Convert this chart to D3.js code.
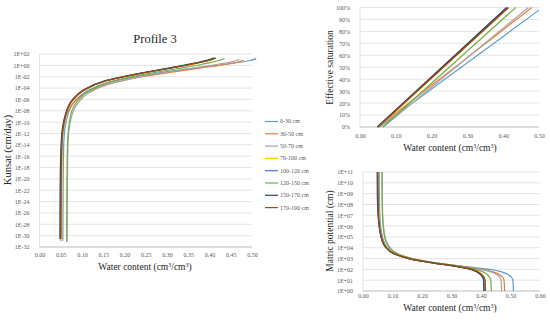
<!DOCTYPE html>
<html>
<head>
<meta charset="utf-8">
<script src="https://cdn.jsdelivr.net/npm/d3@7"></script>
<style>
  body { margin: 0; background: #fff; }
  text { font-family: "Liberation Serif", serif; }
</style>
</head>
<body>
<svg width="550" height="324"></svg>
<script>
// layers in the legend order
const layers = ["0-30 cm", "30-50 cm", "50-70 cm", "70-100 cm", "100-120 cm", "120-150 cm", "150-170 cm", "170-190 cm"];
const colors = ["#5B9BD5", "#ED7D31", "#A5A5A5", "#FFC000", "#4472C4", "#70AD47", "#264478", "#9E480E"];

// matric potential (cm) at which the points below were read
const hLevels = [1, 10, 30, 100, 200, 400, 1e3, 3e3, 1e4, 1e5, 1e7, 1e9, 1e11];

// water content (cm3/cm3) at each hLevel, one row per layer
const theta = [
  [0.510, 0.508, 0.495, 0.430, 0.335, 0.245, 0.162, 0.108, 0.083, 0.066, 0.057, 0.0555, 0.055],
  [0.480, 0.478, 0.465, 0.405, 0.325, 0.240, 0.160, 0.105, 0.080, 0.062, 0.053, 0.051, 0.050],
  [0.470, 0.468, 0.456, 0.400, 0.325, 0.245, 0.168, 0.115, 0.092, 0.075, 0.067, 0.0655, 0.065],
  [0.415, 0.414, 0.405, 0.370, 0.313, 0.237, 0.157, 0.104, 0.080, 0.063, 0.054, 0.0525, 0.052],
  [0.410, 0.409, 0.401, 0.367, 0.312, 0.236, 0.156, 0.103, 0.079, 0.062, 0.053, 0.0505, 0.050],
  [0.435, 0.433, 0.423, 0.383, 0.323, 0.245, 0.166, 0.114, 0.090, 0.073, 0.066, 0.0645, 0.064],
  [0.410, 0.409, 0.400, 0.365, 0.310, 0.235, 0.155, 0.102, 0.078, 0.061, 0.051, 0.0485, 0.048],
  [0.415, 0.414, 0.404, 0.369, 0.313, 0.237, 0.156, 0.103, 0.079, 0.062, 0.052, 0.0505, 0.050]
];

// log10 of Kunsat (cm/day) at each hLevel
const kunsatLog = [
  [1.22, 1.15, 0.85, 0.10, -0.75, -1.75, -3.00, -4.70, -6.30, -8.90, -13.8, -22.3, -30.9],
  [0.90, 0.84, 0.55, -0.20, -1.05, -2.05, -3.35, -5.00, -6.60, -9.20, -14.0, -22.5, -31.0],
  [1.05, 0.98, 0.70, -0.05, -0.90, -1.90, -3.20, -4.90, -6.50, -9.10, -13.9, -22.4, -31.0],
  [1.30, 1.24, 0.95, 0.35, -0.45, -1.45, -2.75, -4.45, -6.05, -8.65, -13.5, -22.0, -30.7],
  [1.33, 1.27, 0.97, 0.37, -0.43, -1.43, -2.72, -4.42, -6.02, -8.62, -13.5, -22.0, -30.6],
  [1.20, 1.13, 0.85, 0.20, -0.60, -1.60, -2.90, -4.60, -6.20, -8.80, -13.7, -22.2, -31.1],
  [1.36, 1.30, 1.00, 0.40, -0.40, -1.40, -2.70, -4.40, -6.00, -8.60, -13.5, -22.0, -30.6],
  [1.35, 1.29, 0.99, 0.38, -0.42, -1.42, -2.71, -4.41, -6.01, -8.61, -13.5, -22.0, -30.5]
];

// water content at effective saturation 0 and 1
const thetaR = [0.055, 0.050, 0.065, 0.052, 0.050, 0.064, 0.048, 0.050];
const thetaS = [0.510, 0.480, 0.470, 0.415, 0.410, 0.435, 0.410, 0.415];

// tick values
const kTickExp = [-32, -30, -28, -26, -24, -22, -20, -18, -16, -14, -12, -10, -8, -6, -4, -2, 0, 2];
const hTickExp = [0, 1, 2, 3, 4, 5, 6, 7, 8, 9, 10, 11];
const wcTicksA = [0, 0.05, 0.1, 0.15, 0.2, 0.25, 0.3, 0.35, 0.4, 0.45, 0.5];
const wcTicksB = [0, 0.1, 0.2, 0.3, 0.4, 0.5];
const wcTicksC = [0, 0.1, 0.2, 0.3, 0.4, 0.5, 0.6];
const seTicks = [0, 0.1, 0.2, 0.3, 0.4, 0.5, 0.6, 0.7, 0.8, 0.9, 1];

let svg = d3.select("svg");
const gridColor = "#d9d9d9";
const tickColor = "#595959";
const titleColor = "#262626";

const expFmt = e => "1E" + (e < 0 ? "-" : "+") + String(Math.abs(e)).padStart(2, "0");

// draw one panel frame: gridlines, bottom line, tick labels
function frame(x, y, yTicks, yFmt, xTicks, xFmt, xPad) {
  let g = svg.append("g");
  let [x0, x1] = x.range();
  let [y0, y1] = y.range();
  g.selectAll(".grid")
    .data(yTicks)
    .enter()
    .append("line")
    .attr("x1", x0).attr("x2", x1)
    .attr("y1", d => y(d)).attr("y2", d => y(d))
    .attr("stroke", gridColor)
    .attr("stroke-width", 0.7);
  g.append("line")
    .attr("x1", x0).attr("x2", x0)
    .attr("y1", y0).attr("y2", y1)
    .attr("stroke", gridColor)
    .attr("stroke-width", 0.7);
  g.append("line")
    .attr("x1", x0).attr("x2", x1)
    .attr("y1", y0).attr("y2", y0)
    .attr("stroke", "#bfbfbf")
    .attr("stroke-width", 0.8);

  let ax = g.append("g")
    .attr("transform", `translate(0,${y0})`)
    .call(d3.axisBottom(x).tickValues(xTicks).tickFormat(xFmt).tickSize(0).tickPadding(xPad));
  let ay = g.append("g")
    .attr("transform", `translate(${x0},0)`)
    .call(d3.axisLeft(y).tickValues(yTicks).tickFormat(yFmt).tickSize(0).tickPadding(10));
  [ax, ay].forEach(a => {
    a.select(".domain").remove();
    a.selectAll("text")
      .attr("fill", tickColor)
      .style("font-family", '"Liberation Serif", serif')
      .style("font-size", "6px");
  });
  return g;
}

function axisTitle(txt, x, y, rotate, size) {
  let t = svg.append("text")
    .attr("text-anchor", "middle")
    .attr("fill", titleColor)
    .style("font-size", size + "px")
    .attr("transform", `translate(${x},${y})` + (rotate ? " rotate(-90)" : ""));
  return t;
}

function wcTitle(x, y) {
  let t = axisTitle("", x, y, false, 9.5);
  t.append("tspan").text("Water content (cm");
  t.append("tspan").attr("dy", -3).style("font-size", "6px").text("3");
  t.append("tspan").attr("dy", 3).text("/cm");
  t.append("tspan").attr("dy", -3).style("font-size", "6px").text("3");
  t.append("tspan").attr("dy", 3).text(")");
}

// ---------- Kunsat panel ----------
let xK = d3.scaleLinear().domain([0, 0.5]).range([39.5, 252]);
let yK = d3.scaleLog().domain([1e-32, 1e2]).range([247, 54]);
frame(xK, yK, kTickExp.map(e => Math.pow(10, e)), d => expFmt(Math.round(Math.log10(d))),
  wcTicksA, d3.format(".2f"), 6);

let lineK = d3.line()
  .x(d => xK(d[0]))
  .y(d => yK(Math.pow(10, d[1])))
  .curve(d3.curveMonotoneY);

svg.append("g")
  .selectAll("path")
  .data(layers.map((l, i) => i))
  .enter()
  .append("path")
  .attr("d", i => lineK(theta[i].map((t, j) => [t, kunsatLog[i][j]])))
  .attr("fill", "none")
  .attr("stroke", i => colors[i])
  .attr("stroke-width", 1.2);

svg.append("text")
  .attr("x", 155).attr("y", 43)
  .attr("text-anchor", "middle")
  .attr("fill", titleColor)
  .style("font-size", "12.5px")
  .text("Profile 3");

axisTitle("", 11, 150, true, 10.5).text("Kunsat (cm/day)");
wcTitle(145, 270);

// legend
let legend = svg.append("g")
  .selectAll("g")
  .data(layers)
  .enter()
  .append("g")
  .attr("transform", (d, i) => `translate(265,${121.5 + i * 12.3})`);
legend.append("line")
  .attr("x1", 0).attr("x2", 13)
  .attr("stroke", (d, i) => colors[i])
  .attr("stroke-width", 1.2);
legend.append("text")
  .attr("x", 15).attr("dy", "0.33em")
  .attr("fill", tickColor)
  .style("font-size", "6px")
  .text(d => d);

// ---------- Effective saturation panel ----------
let xS = d3.scaleLinear().domain([0, 0.5]).range([360, 539]);
let yS = d3.scaleLinear().domain([0, 1]).range([127, 7.5]);
frame(xS, yS, seTicks, d3.format(".0%"), wcTicksB, d3.format(".2f"), 6.5);

svg.append("clipPath").attr("id", "clip-se")
  .append("rect")
  .attr("x", 360).attr("y", 0).attr("width", 179).attr("height", 128);

let lineS = d3.line().x(d => xS(d[0])).y(d => yS(d[1]));
svg.append("g")
  .attr("clip-path", "url(#clip-se)")
  .selectAll("path")
  .data(layers.map((l, i) => i))
  .enter()
  .append("path")
  .attr("d", i => lineS([[thetaR[i], 0], [thetaS[i], 1]]))
  .attr("fill", "none")
  .attr("stroke", i => colors[i])
  .attr("stroke-width", 1.2);

axisTitle("", 333, 67.5, true, 9.5).text("Effective saturation");
wcTitle(450, 151);

// ---------- Matric potential panel ----------
let xH = d3.scaleLinear().domain([0, 0.6]).range([363, 540]);
let yH = d3.scaleLog().domain([1, 1e11]).range([291, 172]);
frame(xH, yH, hTickExp.map(e => Math.pow(10, e)), d => expFmt(Math.round(Math.log10(d))),
  wcTicksC, d3.format(".2f"), 3);

let lineH = d3.line()
  .x(d => xH(d[0]))
  .y(d => yH(d[1]))
  .curve(d3.curveMonotoneY);

svg.append("g")
  .selectAll("path")
  .data(layers.map((l, i) => i))
  .enter()
  .append("path")
  .attr("d", i => lineH(theta[i].map((t, j) => [t, hLevels[j]])))
  .attr("fill", "none")
  .attr("stroke", i => colors[i])
  .attr("stroke-width", 1.2);

axisTitle("", 333, 231, true, 9.5).text("Matric potential (cm)");
wcTitle(450, 311);
</script>
</body>
</html>
